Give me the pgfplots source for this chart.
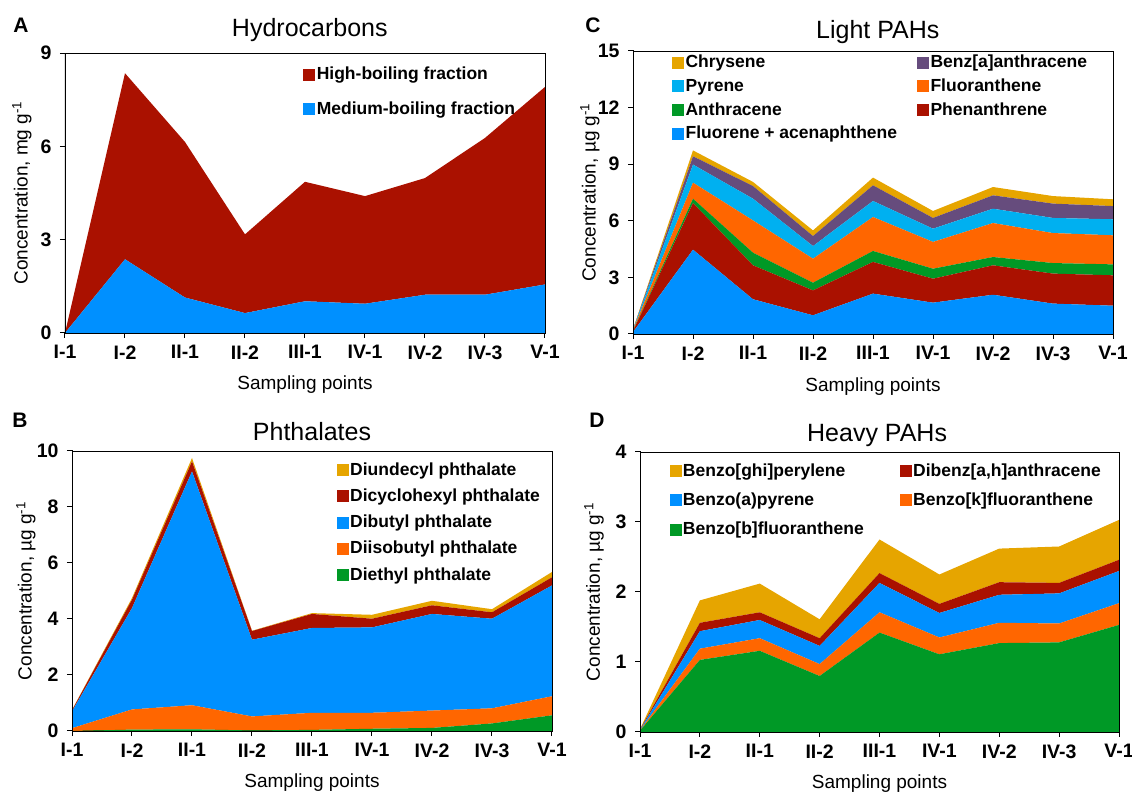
\documentclass[border=0pt]{standalone}
\usepackage{pgfplots}
\usepackage{pgfplotstable}
\pgfplotsset{compat=1.18}
\usepackage{fontspec}
\setmainfont{Liberation Sans}
\definecolor{cred}{RGB}{170,17,0}
\definecolor{cblue}{RGB}{0,144,255}
\definecolor{clblue}{RGB}{0,176,240}
\definecolor{corange}{RGB}{255,102,0}
\definecolor{cgreen}{RGB}{0,153,38}
\definecolor{cgold}{RGB}{230,165,0}
\definecolor{cpurple}{RGB}{102,76,125}

\pgfplotstableread{
x med high
0 0.00 0.00
1 2.37 5.98
2 1.14 5.00
3 0.64 2.53
4 1.02 3.84
5 0.94 3.46
6 1.23 3.75
7 1.23 5.04
8 1.56 6.35
}\tabA

\pgfplotstableread{
x det dib dbp dch dud
0 0.00 0.10 0.60 0.04 0.01
1 0.05 0.72 3.62 0.30 0.06
2 0.06 0.86 8.35 0.36 0.12
3 0.02 0.50 2.74 0.31 0.01
4 0.04 0.61 3.03 0.50 0.03
5 0.08 0.57 3.05 0.31 0.14
6 0.11 0.62 3.45 0.31 0.16
7 0.27 0.54 3.20 0.23 0.11
8 0.56 0.68 3.96 0.29 0.19
}\tabB

\pgfplotstableread{
x flu phe ant fla pyr baa chr
0 0.10 0.05 0.01 0.05 0.02 0.01 0.01
1 4.47 2.47 0.23 0.85 0.96 0.44 0.31
2 1.84 1.80 0.67 1.71 1.15 0.67 0.22
3 0.99 1.32 0.41 1.27 0.67 0.53 0.30
4 2.14 1.68 0.58 1.80 0.85 0.83 0.41
5 1.66 1.27 0.53 1.42 0.70 0.57 0.37
6 2.08 1.56 0.44 1.80 0.76 0.71 0.44
7 1.61 1.59 0.56 1.59 0.80 0.76 0.40
8 1.50 1.61 0.58 1.54 0.85 0.70 0.36
}\tabC

\pgfplotstableread{
x bbf bkf bap dah bgp
0 0.02 0.005 0.005 0.005 0.005
1 1.03 0.16 0.25 0.12 0.32
2 1.16 0.18 0.26 0.11 0.41
3 0.80 0.17 0.26 0.11 0.27
4 1.42 0.29 0.42 0.14 0.48
5 1.11 0.24 0.35 0.13 0.42
6 1.27 0.29 0.40 0.18 0.48
7 1.28 0.27 0.43 0.15 0.52
8 1.53 0.31 0.46 0.16 0.57
}\tabD

\pgfplotsset{
  panel/.style={
    scale only axis, width=480pt, height=280pt, anchor=south west,
    xmin=0, xmax=8, xtick={0,...,8},
    xticklabels={I-1,I-2,II-1,II-2,III-1,IV-1,IV-2,IV-3,V-1},
    ymin=0,
    tick align=outside, xtick pos=bottom, ytick pos=left,
    major tick length=5pt,
    tick style={black, line width=1pt},
    axis line style={line width=0.8pt},
    ticklabel style={font=\bfseries\fontsize{19.5}{22}\selectfont},
    yticklabel style={xshift=-5pt},
    xticklabel style={yshift=-4pt},
    /pgf/number format/assume math mode=true,
    label style={font=\fontsize{19}{22}\selectfont},
    xlabel={Sampling points},
    xlabel style={at={(axis description cs:0.5,-0.186)}, anchor=center},
    ylabel style={at={(axis description cs:-0.09,0.5)}, anchor=center},
    title style={font=\fontsize{25}{28}\selectfont, anchor=center},
    stack plots=y,
    legend style={draw=none, fill=none, font=\bfseries\fontsize{17.5}{20}\selectfont,
      anchor=north west},
    legend cell align=left,
    legend image code/.code={\fill[##1] (0pt,-5.5pt) rectangle (11pt,5.5pt);},
    axis on top,
  },
  area/.style={draw=none, fill=#1, forget plot},
}

\newcommand{\thickaxes}{\draw[line width=2pt,line cap=rect] (rel axis cs:0,1) -- (rel axis cs:0,0) -- (rel axis cs:1,0);}

\begin{document}
\begin{tikzpicture}[x=1pt,y=1pt]
\useasboundingbox (0,0) rectangle (1132,792);

% Panel A
\begin{axis}[panel, at={(65pt,459pt)},
  ymax=9, ytick={0,3,6,9},
  ylabel={Concentration, mg g\textsuperscript{-1}},
  title={Hydrocarbons}, title style={at={(axis description cs:0.51,1.06)}},
  legend style={at={(axis description cs:0.49,0.964)}, row sep=16pt},
]
\addplot[area=cblue] table[x=x,y=med]{\tabA} \closedcycle;
\addplot[area=cred] table[x=x,y=high]{\tabA} \closedcycle;
\addlegendimage{cred}\addlegendentry{High-boiling fraction}
\addlegendimage{cblue}\addlegendentry{Medium-boiling fraction}
\thickaxes
\end{axis}

% Panel C
\begin{axis}[panel, at={(633pt,458pt)}, height=283pt,
  ymax=15, ytick={0,3,...,15},
  ylabel={Concentration, µg g\textsuperscript{-1}},
  title={Light PAHs}, title style={at={(axis description cs:0.51,1.045)}},
  legend columns=2,
  legend style={at={(axis description cs:0.075,1.0)}, row sep=5.5pt,
    /tikz/every even column/.append style={column sep=18pt}},
]
\addplot[area=cblue] table[x=x,y=flu]{\tabC} \closedcycle;
\addplot[area=cred] table[x=x,y=phe]{\tabC} \closedcycle;
\addplot[area=cgreen] table[x=x,y=ant]{\tabC} \closedcycle;
\addplot[area=corange] table[x=x,y=fla]{\tabC} \closedcycle;
\addplot[area=clblue] table[x=x,y=pyr]{\tabC} \closedcycle;
\addplot[area=cpurple] table[x=x,y=baa]{\tabC} \closedcycle;
\addplot[area=cgold] table[x=x,y=chr]{\tabC} \closedcycle;
\addlegendimage{cgold}\addlegendentry{Chrysene}
\addlegendimage{cpurple}\addlegendentry{Benz[a]anthracene}
\addlegendimage{clblue}\addlegendentry{Pyrene}
\addlegendimage{corange}\addlegendentry{Fluoranthene}
\addlegendimage{cgreen}\addlegendentry{Anthracene}
\addlegendimage{cred}\addlegendentry{Phenanthrene}
\addlegendimage{cblue}\addlegendentry{Fluorene + acenaphthene}
\thickaxes
\end{axis}

% Panel B
\begin{axis}[panel, at={(72pt,61pt)},
  ymax=10, ytick={0,2,...,10},
  ylabel={Concentration, µg g\textsuperscript{-1}},
  ylabel style={at={(axis description cs:-0.096,0.5)}},
  title={Phthalates}, title style={at={(axis description cs:0.50,1.047)}},
  legend style={at={(axis description cs:0.545,0.973)}, row sep=8pt},
]
\addplot[area=cgreen] table[x=x,y=det]{\tabB} \closedcycle;
\addplot[area=corange] table[x=x,y=dib]{\tabB} \closedcycle;
\addplot[area=cblue] table[x=x,y=dbp]{\tabB} \closedcycle;
\addplot[area=cred] table[x=x,y=dch]{\tabB} \closedcycle;
\addplot[area=cgold] table[x=x,y=dud]{\tabB} \closedcycle;
\addlegendimage{cgold}\addlegendentry{Diundecyl phthalate}
\addlegendimage{cred}\addlegendentry{Dicyclohexyl phthalate}
\addlegendimage{cblue}\addlegendentry{Dibutyl phthalate}
\addlegendimage{corange}\addlegendentry{Diisobutyl phthalate}
\addlegendimage{cgreen}\addlegendentry{Diethyl phthalate}
\thickaxes
\end{axis}

% Panel D
\begin{axis}[panel, at={(640pt,60pt)}, width=479pt,
  ymax=4, ytick={0,1,...,4},
  ylabel={Concentration, µg g\textsuperscript{-1}},
  ylabel style={at={(axis description cs:-0.096,0.5)}},
  title={Heavy PAHs}, title style={at={(axis description cs:0.495,1.036)}},
  legend columns=2,
  legend style={at={(axis description cs:0.055,0.973)}, row sep=11pt,
    /tikz/every even column/.append style={column sep=34pt}},
]
\addplot[area=cgreen] table[x=x,y=bbf]{\tabD} \closedcycle;
\addplot[area=corange] table[x=x,y=bkf]{\tabD} \closedcycle;
\addplot[area=cblue] table[x=x,y=bap]{\tabD} \closedcycle;
\addplot[area=cred] table[x=x,y=dah]{\tabD} \closedcycle;
\addplot[area=cgold] table[x=x,y=bgp]{\tabD} \closedcycle;
\addlegendimage{cgold}\addlegendentry{Benzo[ghi]perylene}
\addlegendimage{cred}\addlegendentry{Dibenz[a,h]anthracene}
\addlegendimage{cblue}\addlegendentry{Benzo(a)pyrene}
\addlegendimage{corange}\addlegendentry{Benzo[k]fluoranthene}
\addlegendimage{cgreen}\addlegendentry{Benzo[b]fluoranthene}
\thickaxes
\end{axis}

\node[font=\bfseries\fontsize{21}{24}\selectfont] at (21,767) {A};
\node[font=\bfseries\fontsize{21}{24}\selectfont] at (20,372) {B};
\node[font=\bfseries\fontsize{21}{24}\selectfont] at (593,767) {C};
\node[font=\bfseries\fontsize{21}{24}\selectfont] at (597,372) {D};
\end{tikzpicture}
\end{document}
